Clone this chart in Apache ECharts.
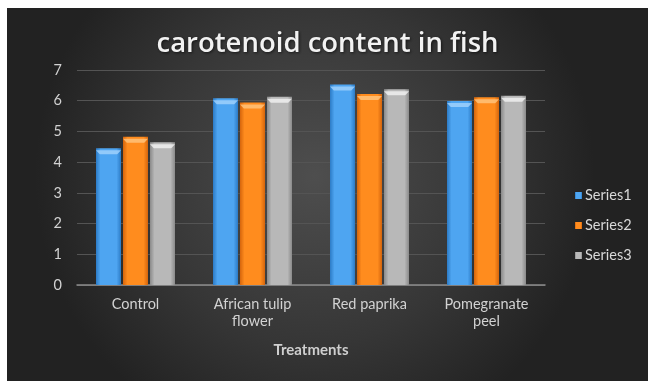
<!DOCTYPE html>
<html>
<head>
<meta charset="utf-8">
<script src="https://cdn.jsdelivr.net/npm/echarts@6/dist/echarts.min.js"></script>
<style>
  html, body { margin: 0; padding: 0; background: #ffffff; }
  #chart { position: absolute; left: 7px; top: 8px; width: 641px; height: 373px; }
</style>
</head>
<body>
<div id="chart"></div>
<script>
// Treatments on the x axis
const categories = ['Control', 'African tulip\nflower', 'Red paprika', 'Pomegranate\npeel'];

// Carotenoid content per series
const series1 = [4.45, 6.08, 6.53, 5.99];
const series2 = [4.83, 5.94, 6.22, 6.11];
const series3 = [4.65, 6.13, 6.37, 6.16];

const seriesNames = ['Series1', 'Series2', 'Series3'];
const seriesValues = [series1, series2, series3];

// Bevel-like horizontal shading per series: [edge, centre, top cap]
const palettes = [
  ['#2c7bc6', '#4ea5f1', '#9fd0fb'],
  ['#d5650c', '#ff8c1e', '#ffc27a'],
  ['#8a8a8a', '#b8b8b8', '#eeeeee']
];

function barFill(p) {
  return new echarts.graphic.LinearGradient(0, 0, 1, 0, [
    { offset: 0, color: p[0] },
    { offset: 0.18, color: p[1] },
    { offset: 0.82, color: p[1] },
    { offset: 1, color: p[0] }
  ]);
}

const BAR_W = 25;
const BAR_GAP = '8%';
const LABEL_FONT = 'Lato';

const chart = echarts.init(document.getElementById('chart'));

const barSeries = seriesNames.map((name, i) => ({
  name: name,
  type: 'bar',
  data: seriesValues[i],
  barWidth: BAR_W,
  barGap: BAR_GAP,
  itemStyle: { color: barFill(palettes[i]) },
  emphasis: { disabled: true },
  z: 2
}));

// Light caps on top of each bar for the bevelled look
const capSeries = seriesNames.map((name, i) => ({
  name: name,
  type: 'pictorialBar',
  data: seriesValues[i],
  barWidth: BAR_W,
  barGap: BAR_GAP,
  symbol: 'path://M0,0 L20,0 L17,4 L3,4 Z',
  symbolSize: [BAR_W, 4],
  symbolPosition: 'end',
  symbolOffset: [0, '50%'],
  itemStyle: { color: palettes[i][2], opacity: 0.85 },
  emphasis: { disabled: true },
  z: 3,
  silent: true
}));

chart.setOption({
  animation: false,
  backgroundColor: new echarts.graphic.RadialGradient(0.48, 0.45, 0.75, [
    { offset: 0, color: '#4e4e4e' },
    { offset: 0.6, color: '#363636' },
    { offset: 1, color: '#222222' }
  ]),
  title: {
    text: 'carotenoid content in fish',
    left: 'center',
    top: 17,
    textStyle: {
      color: '#f2f2f2',
      fontFamily: 'Open Sans',
      fontWeight: 600,
      fontSize: 27.5,
      textShadowColor: 'rgba(0,0,0,0.6)',
      textShadowBlur: 3,
      textShadowOffsetX: 1,
      textShadowOffsetY: 1
    }
  },
  legend: {
    orient: 'vertical',
    left: 563,
    top: 175,
    itemWidth: 7,
    itemHeight: 7,
    itemGap: 15,
    icon: 'rect',
    data: seriesNames,
    textStyle: { color: '#d9d9d9', fontFamily: LABEL_FONT, fontSize: 14.5, padding: [0, 0, 0, -2] }
  },
  grid: { left: 70, right: 103, top: 62, bottom: 96, containLabel: false },
  xAxis: {
    type: 'category',
    data: categories,
    name: 'Treatments',
    nameLocation: 'middle',
    nameGap: 58,
    nameTextStyle: { color: '#cfcfcf', fontFamily: LABEL_FONT, fontWeight: 'bold', fontSize: 15 },
    axisLine: { lineStyle: { color: '#8c8c8c', width: 1.5 } },
    axisTick: { show: false },
    axisLabel: { color: '#d2d2d2', fontFamily: LABEL_FONT, fontSize: 14.5, margin: 11, lineHeight: 17, interval: 0 }
  },
  yAxis: {
    type: 'value',
    min: 0,
    max: 7,
    interval: 1,
    axisLine: { show: false },
    axisTick: { show: false },
    axisLabel: { color: '#d2d2d2', fontFamily: LABEL_FONT, fontSize: 14.5, margin: 15 },
    splitLine: { lineStyle: { color: '#545454', width: 1 } }
  },
  series: barSeries.concat(capSeries)
});
</script>
</body>
</html>
